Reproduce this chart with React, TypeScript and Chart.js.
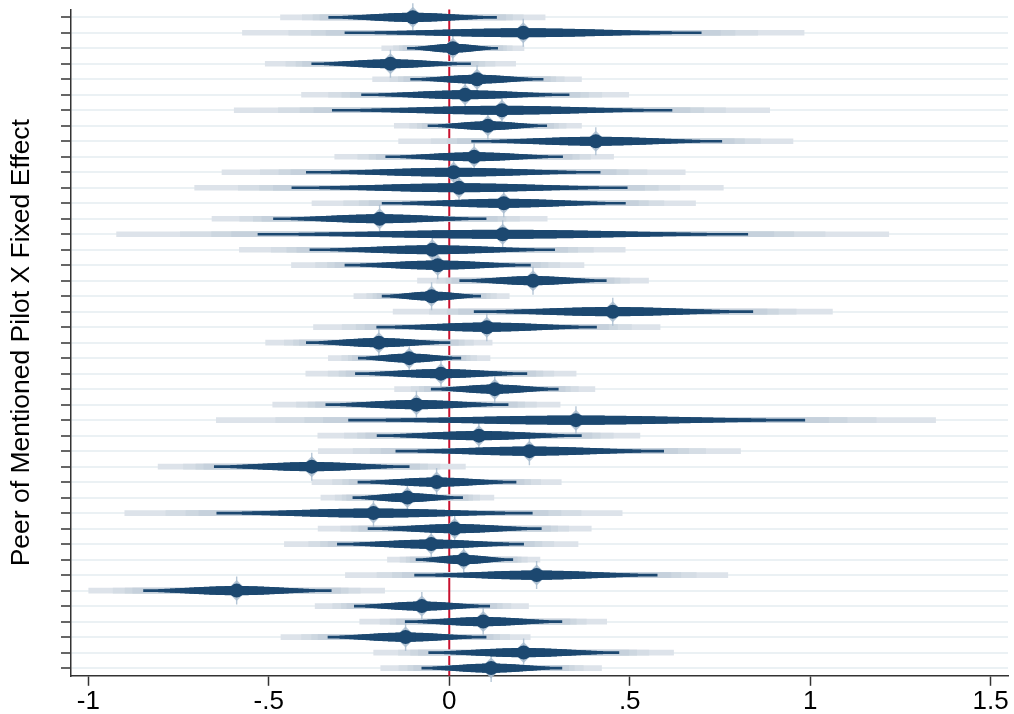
import React, { useEffect, useRef } from "react";
import { Chart, registerables } from "chart.js";

Chart.register(...registerables);

// Point estimates (one per fixed effect, top to bottom)
const estimates = [
  -0.101, 0.205, 0.010, -0.163, 0.077, 0.044, 0.146, 0.107, 0.406, 0.069,
  0.012, 0.027, 0.151, -0.193, 0.148, -0.047, -0.032, 0.232, -0.049, 0.453,
  0.104, -0.195, -0.111, -0.023, 0.126, -0.091, 0.351, 0.082, 0.222, -0.381,
  -0.035, -0.116, -0.210, 0.015, -0.050, 0.040, 0.242, -0.589, -0.076, 0.094,
  -0.121, 0.206, 0.116,
];
// 95% confidence interval bounds
const ciLow = [
  -0.334, -0.289, -0.116, -0.381, -0.107, -0.243, -0.324, -0.059, 0.062, -0.176,
  -0.396, -0.436, -0.186, -0.487, -0.530, -0.386, -0.289, 0.029, -0.186, 0.069,
  -0.201, -0.396, -0.252, -0.260, -0.050, -0.342, -0.279, -0.200, -0.148, -0.651,
  -0.253, -0.267, -0.644, -0.225, -0.310, -0.092, -0.096, -0.847, -0.263, -0.122,
  -0.336, -0.057, -0.076,
];
const ciHigh = [
  0.131, 0.698, 0.134, 0.059, 0.260, 0.332, 0.617, 0.270, 0.755, 0.314,
  0.418, 0.493, 0.488, 0.102, 0.827, 0.292, 0.225, 0.435, 0.087, 0.841,
  0.408, 0.002, 0.032, 0.215, 0.302, 0.163, 0.985, 0.366, 0.594, -0.111,
  0.185, 0.037, 0.230, 0.255, 0.206, 0.176, 0.576, -0.327, 0.112, 0.312,
  0.102, 0.470, 0.312,
];
const categories = estimates.map((_, i) => `FE ${i + 1}`);
const xTicks = [-1, -0.5, 0, 0.5, 1, 1.5];
const xTickLabels = ["-1", "-.5", "0", ".5", "1", "1.5"];
const yTitle = "Peer of Mentioned Pilot X Fixed Effect";

// Styling
const FONT = "'Liberation Sans', Arial, Helvetica, sans-serif";
const DARK = "#1c4870";
const HALO = "rgba(168,188,207,0.85)";
const GRID = "#ebf1f4";
const AXIS = "#333333";
const Z95 = 1.96;
const BAND_LEVELS = [
  { z: 3.09, color: "#dde3ea" },
  { z: 2.58, color: "#d5dde5" },
  { z: 2.33, color: "#cdd7e0" },
  { z: 2.17, color: "#c6d1dc" },
];
const VIOLIN_PEAK = 8.5;
const VIOLIN_STEPS = [2.5, 3, 3.5, 4, 4.5, 5, 5.5, 6, 6.5, 7, 7.5, 8, 8.5];

const zeroLine = {
  id: "zeroLine",
  beforeDatasetsDraw(chart: any) {
    const { ctx, chartArea, scales } = chart;
    const x = scales.x.getPixelForValue(0);
    ctx.save();
    ctx.strokeStyle = "#c8102e";
    ctx.lineWidth = 2;
    ctx.beginPath();
    ctx.moveTo(x, chartArea.top);
    ctx.lineTo(x, chartArea.bottom);
    ctx.stroke();
    ctx.restore();
  },
};

export default function App() {
  const ref = useRef<HTMLCanvasElement | null>(null);

  useEffect(() => {
    if (!ref.current) return;
    const se = ciLow.map((lo, i) => (ciHigh[i] - lo) / (2 * Z95));
    const datasets: any[] = [];

    BAND_LEVELS.forEach((b, k) => {
      datasets.push({
        type: "bar",
        indexAxis: "y",
        data: estimates.map((e, i) => [e - b.z * se[i], e + b.z * se[i]]),
        backgroundColor: b.color,
        borderWidth: 0,
        barThickness: 5,
        grouped: false,
        order: 300 - k,
      });
    });

    datasets.push({
      type: "line",
      indexAxis: "y",
      data: estimates,
      showLine: false,
      pointStyle: "line",
      pointRotation: 90,
      pointRadius: 14,
      pointBorderWidth: 1.4,
      pointBorderColor: HALO,
      pointBackgroundColor: HALO,
      order: 250,
    });
    datasets.push({
      type: "line",
      indexAxis: "y",
      data: estimates,
      showLine: false,
      pointStyle: "rectRot",
      pointRadius: 10.5,
      pointBorderWidth: 0,
      pointBackgroundColor: HALO,
      order: 249,
    });

    datasets.push({
      type: "bar",
      indexAxis: "y",
      data: estimates.map((_, i) => [ciLow[i], ciHigh[i]]),
      backgroundColor: DARK,
      borderWidth: 0,
      barThickness: 2,
      grouped: false,
      order: 200,
    });

    VIOLIN_STEPS.forEach((t, k) => {
      const z = Math.sqrt(2 * Math.log(VIOLIN_PEAK / (t - 0.25)));
      datasets.push({
        type: "bar",
        indexAxis: "y",
        data: estimates.map((e, i) => [e - z * se[i], e + z * se[i]]),
        backgroundColor: DARK,
        borderWidth: 0,
        barThickness: t,
        grouped: false,
        order: 199 - k,
      });
    });

    datasets.push({
      type: "line",
      indexAxis: "y",
      data: estimates,
      showLine: false,
      pointStyle: "circle",
      pointRadius: 7,
      pointBorderWidth: 0,
      pointBackgroundColor: DARK,
      order: 0,
    });

    const chart = new Chart(ref.current, {
      type: "bar",
      data: { labels: categories, datasets },
      plugins: [zeroLine],
      options: {
        indexAxis: "y",
        animation: false,
        responsive: true,
        maintainAspectRatio: false,
        events: [],
        layout: {
          autoPadding: false,
          padding: { top: 9.55, right: 6, bottom: 0, left: 0 },
        },
        plugins: { legend: { display: false }, tooltip: { enabled: false } },
        scales: {
          x: {
            type: "linear",
            min: -1.048,
            max: 1.548,
            afterBuildTicks: (s: any) => {
              s.ticks = xTicks.map((v) => ({ value: v }));
            },
            afterFit: (s: any) => {
              s.height = 38.2;
              s.paddingLeft = 0;
              s.paddingRight = 0;
            },
            ticks: {
              callback: (_v: any, i: number) => xTickLabels[i] ?? "",
              font: { family: FONT, size: 26 },
              color: "#000",
              padding: 0,
              maxRotation: 0,
              autoSkip: false,
            },
            grid: {
              drawOnChartArea: false,
              drawTicks: true,
              tickLength: 10,
              tickColor: AXIS,
              tickWidth: 1.5,
            },
            border: { color: AXIS, width: 1.5 },
          },
          y: {
            type: "category",
            offset: true,
            afterFit: (s: any) => {
              s.width = 71;
              s.paddingTop = 0;
              s.paddingBottom = 0;
            },
            ticks: { display: false },
            grid: {
              offset: false,
              color: GRID,
              lineWidth: 2,
              drawTicks: true,
              tickLength: 10,
              tickColor: AXIS,
              tickWidth: 1.5,
            },
            border: { color: AXIS, width: 1.5 },
            title: {
              display: true,
              text: yTitle,
              font: { family: FONT, size: 26.5 },
              color: "#000",
              padding: { top: 6, bottom: 0 },
            },
          },
        },
      } as any,
    });
    return () => chart.destroy();
  }, []);

  return (
    <div
      style={{
        position: "fixed",
        left: 0,
        top: 0,
        width: 1014,
        height: 714,
        background: "#fff",
      }}
    >
      <canvas ref={ref} />
    </div>
  );
}
